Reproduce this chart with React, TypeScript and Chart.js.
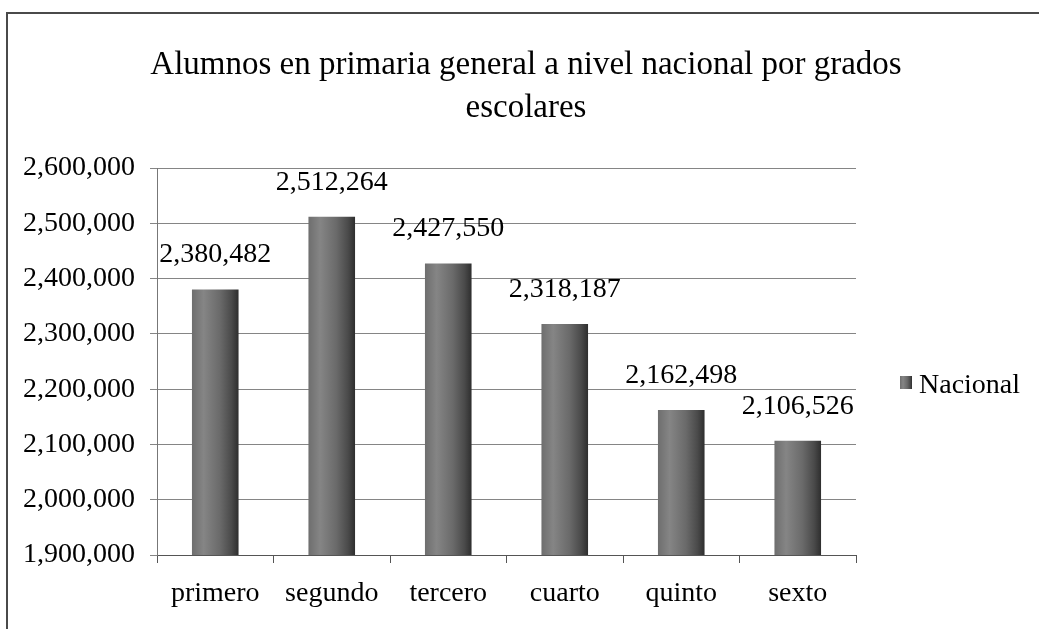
import React, { useEffect, useRef } from 'react';
import { Chart, registerables } from 'chart.js';

Chart.register(...registerables);

const categories = ['primero', 'segundo', 'tercero', 'cuarto', 'quinto', 'sexto'];
const values = [2380482, 2512264, 2427550, 2318187, 2162498, 2106526];
const seriesLabel = 'Nacional';
const titleLines = ['Alumnos en primaria general a nivel nacional por grados', 'escolares'];
const yMin = 1900000;
const yMax = 2600000;
const yStep = 100000;

const FONT = "'Liberation Serif', 'Times New Roman', serif";
const fmt = (v: number) => v.toLocaleString('en-US');

function barFill(ctx: CanvasRenderingContext2D, x0: number, x1: number) {
  const g = ctx.createLinearGradient(x0, 0, x1, 0);
  g.addColorStop(0, '#6e6e6e');
  g.addColorStop(0.25, '#858585');
  g.addColorStop(0.6, '#6a6a6a');
  g.addColorStop(0.85, '#4a4a4a');
  g.addColorStop(1, '#2e2e2e');
  return g;
}

export default function App() {
  const ref = useRef<HTMLCanvasElement | null>(null);

  useEffect(() => {
    const canvas = ref.current;
    if (!canvas) return;

    const framePlugin = {
      id: 'frame',
      beforeDraw(chart: any) {
        const c = chart.ctx;
        c.save();
        c.fillStyle = '#ffffff';
        c.fillRect(0, 0, chart.width, chart.height);
        c.strokeStyle = '#4a4a4a';
        c.lineWidth = 2;
        c.beginPath();
        c.moveTo(7, chart.height);
        c.lineTo(7, 13);
        c.lineTo(chart.width, 13);
        c.stroke();
        c.restore();
      },
    };

    const labelPlugin = {
      id: 'valueLabels',
      afterDatasetsDraw(chart: any) {
        const c = chart.ctx;
        const meta = chart.getDatasetMeta(0);
        c.save();
        c.font = `28px ${FONT}`;
        c.fillStyle = '#000';
        c.textAlign = 'center';
        c.textBaseline = 'alphabetic';
        meta.data.forEach((bar: any, i: number) => {
          c.fillText(fmt(values[i]), bar.x, bar.y - 27);
        });
        c.restore();
      },
    };

    const legendPlugin = {
      id: 'customLegend',
      afterDraw(chart: any) {
        const c = chart.ctx;
        const area = chart.chartArea;
        const bx = area.right + 44;
        const by = 376;
        c.save();
        c.fillStyle = barFill(c, bx, bx + 12);
        c.fillRect(bx, by, 12, 13);
        c.font = `28px ${FONT}`;
        c.fillStyle = '#000';
        c.textAlign = 'left';
        c.textBaseline = 'alphabetic';
        c.fillText(chart.data.datasets[0].label, bx + 19, by + 17);
        c.restore();
      },
    };

    const chart = new Chart(canvas, {
      type: 'bar',
      data: {
        labels: categories,
        datasets: [
          {
            label: seriesLabel,
            data: values,
            backgroundColor: (context: any) => {
              const ch = context.chart;
              const xs = ch.scales && ch.scales.x;
              if (!ch.chartArea || !xs || context.dataIndex === undefined) return '#6a6a6a';
              const cx = xs.getPixelForValue(context.dataIndex);
              const half = ((ch.chartArea.right - ch.chartArea.left) / categories.length) * 0.2;
              return barFill(ch.ctx, cx - half, cx + half);
            },
            borderWidth: 0,
            barPercentage: 0.4,
            categoryPercentage: 1,
          },
        ],
      },
      options: {
        responsive: false,
        animation: false,
        layout: { padding: { left: 13, right: 0, top: 20, bottom: 0 } },
        plugins: {
          legend: { display: false },
          tooltip: { enabled: false },
          title: {
            display: true,
            text: titleLines,
            color: '#000',
            font: { family: FONT, size: 33, weight: 'normal', lineHeight: 1.29 },
            padding: { top: 24, bottom: 39 },
          },
        },
        scales: {
          x: {
            offset: true,
            grid: {
              display: true,
              drawOnChartArea: false,
              drawTicks: true,
              tickLength: 8,
              offset: true,
              color: '#555',
            },
            border: { display: true, color: '#555', width: 1 },
            ticks: {
              color: '#000',
              font: { family: FONT, size: 28, lineHeight: 1.2 },
              padding: 14,
              maxRotation: 0,
              autoSkip: false,
            },
            afterFit: (s: any) => {
              s.height = 74;
            },
          },
          y: {
            min: yMin,
            max: yMax,
            grid: {
              color: '#858585',
              lineWidth: 1,
              drawTicks: true,
              tickLength: 7,
            },
            border: { display: true, color: '#777', width: 1 },
            ticks: {
              stepSize: yStep,
              color: '#000',
              font: { family: FONT, size: 28 },
              padding: 15,
              callback: (v: any) => fmt(Number(v)),
            },
            afterFit: (s: any) => {
              s.width = 144;
            },
          },
          spacer: {
            type: 'linear',
            position: 'right',
            display: true,
            grid: { display: false, drawTicks: false },
            border: { display: false },
            ticks: { display: false },
            afterFit: (s: any) => {
              s.width = 183;
            },
          },
        },
      } as any,
      plugins: [framePlugin, labelPlugin, legendPlugin],
    });

    return () => chart.destroy();
  }, []);

  return (
    <div style={{ position: 'fixed', left: 0, top: 0, width: 1039, height: 629, background: '#fff' }}>
      <canvas ref={ref} width={1039} height={629} style={{ display: 'block' }} />
    </div>
  );
}
